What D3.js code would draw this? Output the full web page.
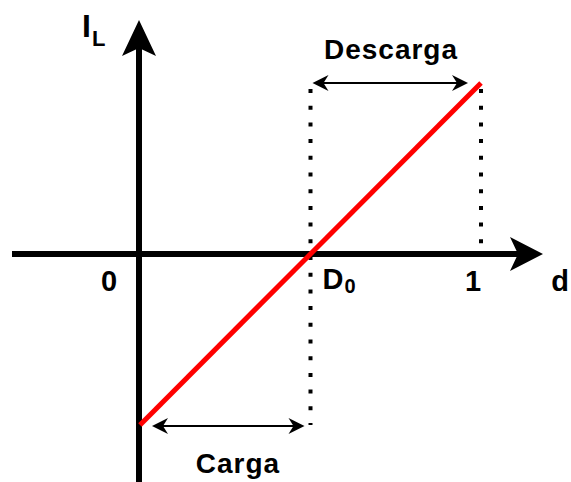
<!DOCTYPE html>
<html>
<head>
<meta charset="utf-8">
<script src="https://cdn.jsdelivr.net/npm/d3@7"></script>
<style>
  body { margin: 0; background: #fff; }
  svg text { font-family: "Liberation Sans", Arial, sans-serif; font-weight: bold; fill: #000; }
</style>
</head>
<body>
<svg id="chart" width="571" height="482"></svg>
<script>
// data
const dDomain = [0, 1];          // duty cycle
const iDomain = [-1, 1];         // normalized inductor current
const D0 = 0.5;
const lineD = [0, 1];
const lineI = [-1, 1];
const xTicks = [{ v: 0, label: "0" }, { v: 1, label: "1" }];

const svg = d3.select("#chart");

const x = d3.scaleLinear().domain(dDomain).range([140, 481]);
const y = d3.scaleLinear().domain(iDomain).range([425, 83]);

// arrowhead shapes
function notchedHead(tipX, tipY, dir, len, half, notch) {
    // dir: 'up' or 'right' or 'left'
    let pts;
    if (dir === 'up') {
        pts = [[tipX, tipY], [tipX + half, tipY + len], [tipX, tipY + len - notch], [tipX - half, tipY + len]];
    } else if (dir === 'right') {
        pts = [[tipX, tipY], [tipX - len, tipY + half], [tipX - len + notch, tipY], [tipX - len, tipY - half]];
    } else {
        pts = [[tipX, tipY], [tipX + len, tipY + half], [tipX + len - notch, tipY], [tipX + len, tipY - half]];
    }
    return 'M' + pts.map(p => p.join(',')).join('L') + 'Z';
}

const x0 = 139, y0 = y(0);

// axes
svg.append('line')
    .attr('x1', x0).attr('x2', x0)
    .attr('y1', 45).attr('y2', 482)
    .attr('stroke', '#000').attr('stroke-width', 6);
svg.append('path')
    .attr('d', notchedHead(x0, 20, 'up', 36, 17, 8))
    .attr('fill', '#000');

svg.append('line')
    .attr('x1', 12).attr('x2', 520)
    .attr('y1', y0).attr('y2', y0)
    .attr('stroke', '#000').attr('stroke-width', 6);
svg.append('path')
    .attr('d', notchedHead(543, y0, 'right', 33, 17, 8))
    .attr('fill', '#000');

// dotted guides
svg.append('line')
    .attr('x1', x(D0)).attr('x2', x(D0))
    .attr('y1', y(1) + 6).attr('y2', y(-1))
    .attr('stroke', '#000').attr('stroke-width', 4)
    .attr('stroke-dasharray', '4 12.7');
svg.append('line')
    .attr('x1', x(1)).attr('x2', x(1))
    .attr('y1', y(1) + 6).attr('y2', y0)
    .attr('stroke', '#000').attr('stroke-width', 4)
    .attr('stroke-dasharray', '4 12.7');

// red characteristic line
svg.append('line')
    .attr('x1', x(lineD[0])).attr('y1', y(lineI[0]))
    .attr('x2', x(lineD[1])).attr('y2', y(lineI[1]))
    .attr('stroke', '#ff0000').attr('stroke-width', 5);

// double arrows
function doubleArrow(xa, xb, yy) {
    svg.append('line')
        .attr('x1', xa + 8).attr('x2', xb - 8)
        .attr('y1', yy).attr('y2', yy)
        .attr('stroke', '#000').attr('stroke-width', 2);
    svg.append('path').attr('d', notchedHead(xa, yy, 'left', 16, 8, 5)).attr('fill', '#000');
    svg.append('path').attr('d', notchedHead(xb, yy, 'right', 16, 8, 5)).attr('fill', '#000');
}
doubleArrow(x(D0) + 2, x(1) - 13, y(1));
doubleArrow(x(0) + 12, x(D0) - 6, y(-1) + 1);

// labels
svg.append('text')
    .attr('x', 391).attr('y', 59)
    .attr('text-anchor', 'middle').attr('font-size', 28)
    .attr('letter-spacing', 1)
    .text('Descarga');
svg.append('text')
    .attr('x', 238).attr('y', 473)
    .attr('text-anchor', 'middle').attr('font-size', 28)
    .attr('letter-spacing', 1)
    .text('Carga');

svg.selectAll('text.tick')
    .data(xTicks)
    .join('text')
    .attr('class', 'tick')
    .attr('x', d => d.v === 0 ? x(d.v) - 31 : x(d.v) - 8)
    .attr('y', 291)
    .attr('text-anchor', 'middle').attr('font-size', 29)
    .text(d => d.label);

const d0 = svg.append('text')
    .attr('x', x(D0) + 12).attr('y', 289)
    .attr('font-size', 29);
d0.append('tspan').text('D');
d0.append('tspan').attr('font-size', 20).attr('dy', 4).attr('dx', 1).text('0');

svg.append('text')
    .attr('x', 560).attr('y', 291)
    .attr('text-anchor', 'middle').attr('font-size', 29)
    .text('d');

const il = svg.append('text')
    .attr('x', 82).attr('y', 37)
    .attr('font-size', 32);
il.append('tspan').text('I');
il.append('tspan').attr('font-size', 22).attr('dy', 9).attr('dx', 1).text('L');
</script>
</body>
</html>
